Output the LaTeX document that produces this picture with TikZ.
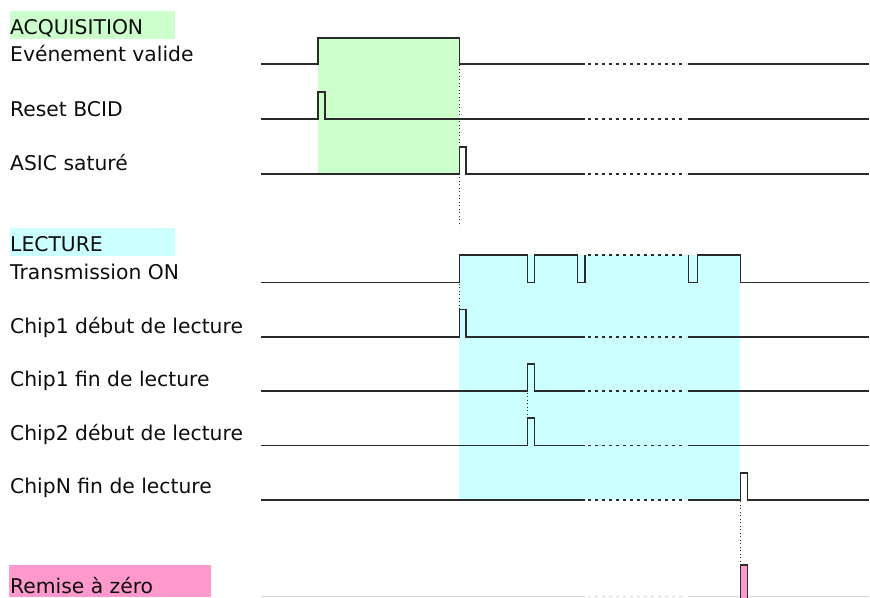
\documentclass[tikz,border=0pt]{standalone}
\usepackage{fontspec}
\setmainfont{DejaVu Sans}
\definecolor{acqc}{HTML}{CCFFCC}
\definecolor{lecc}{HTML}{CCFFFF}
\definecolor{rstc}{HTML}{FF99CC}
\definecolor{sigc}{HTML}{2A2A2A}
\begin{document}
\begin{tikzpicture}[x=1pt,y=-1pt,
  sig/.style={draw=sigc, line width=1.6pt, line join=miter},
  gapline/.style={draw=sigc, line width=1.6pt, dash pattern=on 3pt off 4pt},
  faint/.style={draw=black!15, line width=1.6pt},
  faintgap/.style={draw=black!15, line width=1.6pt, dash pattern=on 3pt off 4pt},
  guide/.style={draw=sigc, line width=1.1pt, dash pattern=on 1.2pt off 2.3pt},
  lbl/.style={anchor=base west, inner sep=0pt, font=\fontsize{20.3}{24}\selectfont, text=black!95}]
\useasboundingbox (0,0) rectangle (870,597);
% phase backgrounds
\fill[acqc] (317.7,37.7) rectangle (459.3,173.7);
\fill[lecc] (459.3,255) rectangle (740.3,499.7);
\fill[acqc] (10,11) rectangle (175,39);
\fill[lecc] (10,228.3) rectangle (175,255.7);
\fill[rstc] (9,565) rectangle (210.7,597);
% labels
\node[lbl] (tacq) at (10,34.3) {ACQUISITION};
\node[lbl] (tev) at (10,61.7) {Evénement valide};
\node[lbl] (trst) at (10,116.7) {Reset BCID};
\node[lbl] (tasic) at (10,170) {ASIC saturé};
\node[lbl] (tlec) at (10,251.7) {LECTURE};
\node[lbl] (ttx) at (10,279) {Transmission ON};
\node[lbl] (tc1d) at (10,333.3) {Chip1 début de lecture};
\node[lbl] (tc1f) at (10,386.7) {Chip1 fin de lecture};
\node[lbl] (tc2d) at (10,440) {Chip2 début de lecture};
\node[lbl] (tcnf) at (10,493.3) {ChipN fin de lecture};
\node[lbl] (trz) at (10,593.3) {Remise à zéro};
% Evenement valide
\draw[sig] (261,64) -- (317.7,64) -- (317.7,37.7) -- (459.3,37.7) -- (459.3,64) -- (585,64);
\draw[gapline] (588,64) -- (686,64);
\draw[sig] (688,64) -- (869,64);
% Reset BCID
\draw[sig] (261,119) -- (317.7,119) -- (317.7,91.7) -- (325,91.7) -- (325,119) -- (585,119);
\draw[gapline] (588,119) -- (686,119);
\draw[sig] (688,119) -- (869,119);
% ASIC sature
\draw[sig] (261,173.7) -- (459.3,173.7) -- (459.3,146.7) -- (466,146.7) -- (466,173.7) -- (585,173.7);
\draw[gapline] (588,173.7) -- (686,173.7);
\draw[sig] (688,173.7) -- (869,173.7);
% Transmission ON
\draw[sig] (261,282.3) -- (459.3,282.3) -- (459.3,255) -- (527.3,255) -- (527.3,282.3) -- (534.3,282.3) -- (534.3,255) -- (577.3,255) -- (577.3,282.3) -- (584.7,282.3) -- (584.7,255);
\draw[gapline] (588,255) -- (686,255);
\draw[sig] (688.3,255) -- (688.3,282.3) -- (697.3,282.3) -- (697.3,255) -- (740.3,255) -- (740.3,282.3) -- (869,282.3);
% Chip1 debut
\draw[sig] (261,336.7) -- (459.3,336.7) -- (459.3,309.3) -- (466,309.3) -- (466,336.7) -- (585,336.7);
\draw[gapline] (588,336.7) -- (686,336.7);
\draw[sig] (688,336.7) -- (869,336.7);
% Chip1 fin
\draw[sig] (261,391) -- (527.3,391) -- (527.3,363.7) -- (534.3,363.7) -- (534.3,391) -- (585,391);
\draw[gapline] (588,391) -- (686,391);
\draw[sig] (688,391) -- (869,391);
% Chip2 debut
\draw[sig] (261,445.3) -- (527.3,445.3) -- (527.3,418) -- (534.3,418) -- (534.3,445.3) -- (585,445.3);
\draw[gapline] (588,445.3) -- (686,445.3);
\draw[sig] (688,445.3) -- (869,445.3);
% ChipN fin
\draw[sig] (261,499.7) -- (585,499.7);
\draw[gapline] (588,499.7) -- (686,499.7);
\draw[sig] (688,499.7) -- (740.3,499.7) -- (740.3,472.7) -- (747.3,472.7) -- (747.3,499.7) -- (869,499.7);
% Remise a zero
\draw[faint] (261,596.5) -- (585,596.5);
\draw[faintgap] (588,596.5) -- (686,596.5);
\draw[faint] (688,596.5) -- (869,596.5);
\draw[sig, fill=rstc, line width=1.3pt] (740.3,598) -- (740.3,565) -- (747.3,565) -- (747.3,598);
% guides
\coordinate (g1a) at (459.3,65);   \coordinate (g1b) at (459.3,226);
\coordinate (g2a) at (459.3,283.5);  \coordinate (g2b) at (459.3,309);
\coordinate (g3a) at (527.3,392.5);  \coordinate (g3b) at (527.3,418);
\coordinate (g4a) at (740.3,501); \coordinate (g4b) at (740.3,565);
\draw[guide] (g1a) -- (g1b);
\draw[guide] (g2a) -- (g2b);
\draw[guide] (g3a) -- (g3b);
\draw[guide] (g4a) -- (g4b);
\end{tikzpicture}
\end{document}
